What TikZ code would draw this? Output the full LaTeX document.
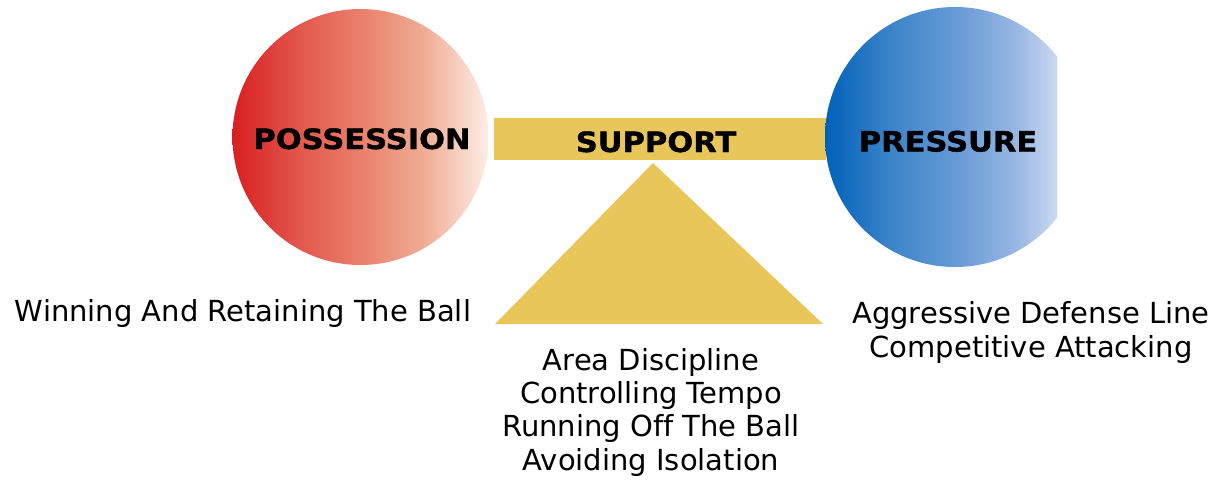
\documentclass[tikz,border=0pt]{standalone}
\usepackage{fontspec}
\setmainfont{DejaVu Sans}[Ligatures=NoCommon]
\newfontfamily\heavyfont{DejaVu Sans Bold}[FakeBold=1.2]
\definecolor{gold}{RGB}{232,198,90}
% horizontal colour ramps for the two weights (the path spans 25bp..75bp)
\pgfdeclarehorizontalshading{redramp}{100bp}{%
  rgb(0bp)=(0.85,0.12,0.13);
  rgb(25bp)=(0.85,0.12,0.13);
  rgb(38bp)=(0.89,0.34,0.30);
  rgb(50bp)=(0.92,0.50,0.42);
  rgb(62bp)=(0.94,0.67,0.58);
  rgb(75bp)=(0.99,0.93,0.90);
  rgb(100bp)=(0.99,0.93,0.90)}
\pgfdeclarehorizontalshading{blueramp}{100bp}{%
  rgb(0bp)=(0,0.38,0.73);
  rgb(25bp)=(0,0.38,0.73);
  rgb(38bp)=(0.24,0.52,0.79);
  rgb(50bp)=(0.40,0.60,0.84);
  rgb(62bp)=(0.60,0.72,0.89);
  rgb(75bp)=(0.93,0.94,0.98);
  rgb(100bp)=(0.93,0.94,0.98)}
\tikzset{
  ball/.style={circle, inner sep=0pt, minimum size=#1},
  title/.style={font=\fontsize{28}{32}\heavyfont, text=black, inner sep=0pt, anchor=base},
  caption/.style={font=\fontsize{29}{33.3}\selectfont, text=black, inner sep=0pt, align=center, anchor=base},
}
\newcommand{\widen}[1]{\scalebox{1.09}[1]{#1}}
\begin{document}
\begin{tikzpicture}[x=1pt,y=-1pt]
  \useasboundingbox[fill=white] (0,0) rectangle (1217,480);
  % the beam and the fulcrum
  \fill[gold] (494,118) rectangle (826,160);
  \fill[gold] (653,163) -- (823,324) -- (495,324) -- cycle;
  \node[title] (support) at (656,152) {\widen{SUPPORT}};
  % the two weights
  \node[ball=256pt, shading=redramp] (possball) at (360.5,137) {};
  \node[title] (possession) at (362,149) {\widen{POSSESSION}};
  \begin{scope}
    \clip (0,0) rectangle (1057,480);
    \node[ball=260pt, shading=blueramp] (pressball) at (955,137) {};
  \end{scope}
  \node[title] (pressure) at (948,151.5) {\widen{PRESSURE}};
  % descriptions (base anchor sits on the last line)
  \node[caption] (posstext) at (243,321) {Winning And Retaining The Ball};
  \node[caption] (supptext) at (651,470) {Area Discipline\\Controlling Tempo\\Running Off The Ball\\Avoiding Isolation};
  \node[caption] (presstext) at (1031,357) {Aggressive Defense Line\\Competitive Attacking};
\end{tikzpicture}
\end{document}
